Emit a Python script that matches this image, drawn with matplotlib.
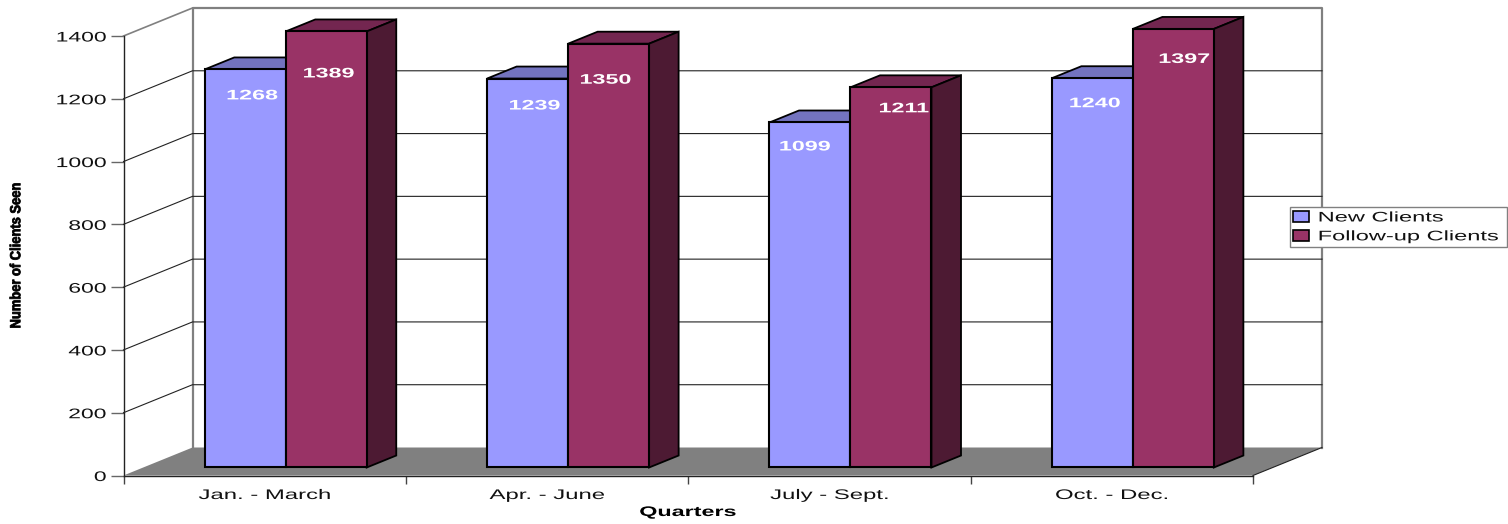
import matplotlib
matplotlib.use("Agg")
import matplotlib.pyplot as plt
import matplotlib.patheffects as pe
from matplotlib.patches import Patch
from matplotlib.transforms import Affine2D

quarters = ["Jan. - March", "Apr. - June", "July - Sept.", "Oct. - Dec."]
new_clients = [1268, 1239, 1099, 1240]
followup_clients = [1389, 1350, 1211, 1397]
y_ticks = [0, 200, 400, 600, 800, 1000, 1200, 1400]

# layout (px-based)
W, H = 1508, 524
L, R, B, T = 123.5, 1253, 475.5, 36
PX_X = (R - L) / 4
PX_Y = (B - T) / 1400
DX = 69 / PX_X      # full depth, category units
DY = 28 / PX_Y      # full depth, value units
D0, D1 = 0.286, 0.714
BAR_W = 81 / PX_X
SHIFT = 1.3 / PX_X
label_drop_new = [26, 27, 24, 25]
label_drop_follow = [42, 36, 21, 30]
label_dx_new = [7, 7, -5, 2.5]
label_dx_follow = [2.5, -3, 13, 11]

BLUE, BLUE_TOP = "#9999FF", "#7373BF"
RED, RED_TOP, RED_SIDE = "#993366", "#732650", "#4D1A33"
GREY = "#808080"
FONT = "Liberation Sans"


class Stretch(pe.AbstractPathEffect):
    def __init__(self, sx=1.68, sy=1.0, anchor="center", stroke=0.0):
        super().__init__()
        self.sx, self.sy, self.anchor, self.stroke = sx, sy, anchor, stroke

    def draw_path(self, renderer, gc, tpath, affine, rgbFace=None):
        e = affine.transform_path(tpath).get_extents()
        ax_ = {"left": e.x0, "right": e.x1}.get(self.anchor, (e.x0 + e.x1) / 2)
        ay_ = (e.y0 + e.y1) / 2
        a = affine + Affine2D().translate(-ax_, -ay_).scale(self.sx, self.sy).translate(ax_, ay_)
        g = renderer.new_gc()
        g.copy_properties(gc)
        if self.stroke:
            g.set_linewidth(self.stroke)
            g.set_foreground(rgbFace)
        renderer.draw_path(g, tpath, a, rgbFace)
        g.restore()


def proj(x, y, d):
    return x + d * DX, y + d * DY


fig = plt.figure(figsize=(W / 100, H / 100), dpi=100)
ax = fig.add_axes([L / W, (H - B) / H, (R - L) / W, (B - T) / H])
ax.set_xlim(0, 4)
ax.set_ylim(0, 1400)
ax.patch.set_visible(False)
for s in ("top", "right"):
    ax.spines[s].set_visible(False)
for s in ("left", "bottom"):
    ax.spines[s].set_linewidth(1.0)
    ax.spines[s].set_color("#222222")
    ax.spines[s].set_zorder(6)

# walls and floor
bx0, by0 = proj(0, 0, 1)
bx1, by1 = proj(4, 1400, 1)
ax.plot([bx0, bx0, bx1, bx1], [by0, by1, by1, by0], color=GREY, lw=1.6, clip_on=False, zorder=2)
for v in y_ticks[1:-1]:
    ax.plot([0, bx0, bx1], [v, v + DY, v + DY], color="#222222", lw=0.8, clip_on=False, zorder=2)
ax.plot([0, bx0], [1400, 1400 + DY], color=GREY, lw=1.2, clip_on=False, zorder=2)
ax.fill([0, bx0, bx1, 4], [0, DY, DY, 0], facecolor=GREY, edgecolor="none", clip_on=False, zorder=3)
ax.plot([4, bx1], [0, DY], color="#222222", lw=0.8, clip_on=False, zorder=3)

# bars
ec = "black"
for i, (a, b) in enumerate(zip(new_clients, followup_clients)):
    c = i + 0.5 + SHIFT
    fc_mid = c + D0 * DX
    base = D0 * DY
    for x0, v, top in ((c - BAR_W, a, BLUE_TOP), (c, b, RED_TOP)):
        x1 = x0 + BAR_W
        p = [proj(x0, v, D0), proj(x1, v, D0), proj(x1, v, D1), proj(x0, v, D1)]
        ax.fill(*zip(*p), facecolor=top, edgecolor=ec, lw=1.3, clip_on=False, zorder=4 + i * 0.01)
    x1 = c + BAR_W
    p = [proj(x1, 0, D0), proj(x1, 0, D1), proj(x1, b, D1), proj(x1, b, D0)]
    ax.fill(*zip(*p), facecolor=RED_SIDE, edgecolor=ec, lw=1.3, clip_on=False, zorder=4 + i * 0.01)
    z = 4.5
    ax.bar(fc_mid - BAR_W / 2, a, BAR_W, bottom=base, color=BLUE, edgecolor=ec, lw=1.5, clip_on=False, zorder=z)
    ax.bar(fc_mid + BAR_W / 2, b, BAR_W, bottom=base, color=RED, edgecolor=ec, lw=1.5, clip_on=False, zorder=z)
    for xc, v, drop, dx in ((fc_mid - BAR_W / 2, a, label_drop_new[i], label_dx_new[i]),
                            (fc_mid + BAR_W / 2, b, label_drop_follow[i], label_dx_follow[i])):
        ax.text(xc + dx / PX_X, v + base - drop / PX_Y, str(v), color="white", family=FONT,
                fontweight="bold", fontsize=10, ha="center", va="center", zorder=7,
                path_effects=[Stretch(sx=1.68)])

# axes ticks and labels
ax.set_yticks(y_ticks)
ax.tick_params(axis="y", length=9.4, width=1.0, color="#666666", pad=3, labelsize=10)
for t in ax.get_yticklabels():
    t.set_family(FONT)
    t.set_color("#111111")
    t.set_path_effects([Stretch(anchor="right", sx=1.65)])
ax.set_xticks(range(5))
ax.set_xticklabels([])
ax.tick_params(axis="x", which="major", length=6, width=1.0, color="#444444")
ax.set_xticks([i + 0.5 for i in range(4)], minor=True)
ax.set_xticklabels(quarters, minor=True)
ax.tick_params(axis="x", which="minor", length=0, pad=9, labelsize=10)
for t in ax.get_xticklabels(minor=True):
    t.set_family(FONT)
    t.set_color("#111111")
    t.set_path_effects([Stretch(sx=1.72)])

fig.text(688 / W, 1 - 512 / H, "Quarters", family=FONT, fontweight="bold", fontsize=10,
         ha="center", va="center", path_effects=[Stretch()])
fig.text(16 / W, 1 - 255.5 / H, "Number of Clients Seen", family=FONT, fontweight="bold", fontsize=10,
         rotation=90, ha="center", va="center", path_effects=[Stretch(sx=1.05, sy=0.93, stroke=0.6)])

# legend
handles = [Patch(facecolor=BLUE, edgecolor="black", lw=1.2), Patch(facecolor=RED, edgecolor="black", lw=1.2)]
leg = fig.legend(handles, ["New Clients", "Follow-up Clients"], loc="upper left",
                 bbox_to_anchor=(1290 / W, 1 - 245 / H, 217 / W, 38 / H), mode="expand",
                 borderaxespad=0, borderpad=0.25, labelspacing=0.35, handlelength=1.1, handleheight=0.8,
                 handletextpad=0.7, fancybox=False, edgecolor=GREY, framealpha=1,
                 prop={"family": FONT, "size": 10})
leg.get_frame().set_linewidth(1.0)
leg.set_zorder(10)
for t in leg.get_texts():
    t.set_color("#111111")
    t.set_path_effects([Stretch(anchor="left", sx=1.7)])

fig.savefig("out.png", dpi=100)
